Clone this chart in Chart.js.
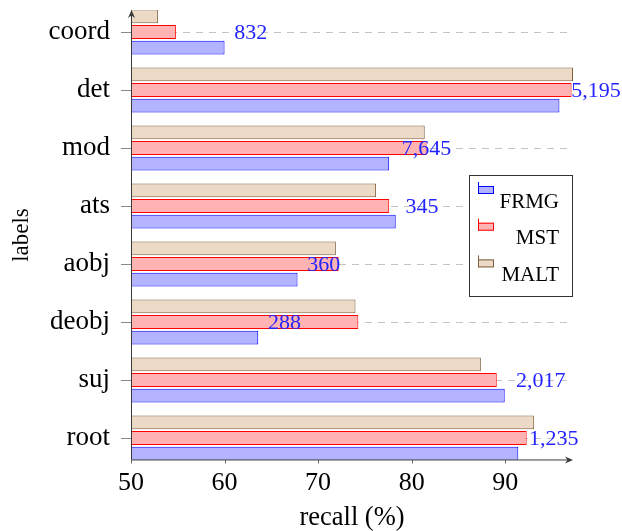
<!DOCTYPE html>
<html>
<head>
<meta charset="utf-8">
<script src="https://cdn.jsdelivr.net/npm/chart.js@4"></script>
<style>
html, body { margin: 0; padding: 0; background: #fff; }
</style>
</head>
<body>
<canvas id="recallChart" width="622" height="531"></canvas>
<script>
var labels = ['coord', 'det', 'mod', 'ats', 'aobj', 'deobj', 'suj', 'root'];
var frmg = [60.0, 95.8, 77.6, 78.3, 67.8, 63.6, 89.95, 91.4];
var mst = [54.8, 97.1, 81.6, 77.6, 72.2, 74.3, 89.1, 92.3];
var malt = [52.9, 97.25, 81.4, 76.2, 71.9, 74.0, 87.4, 93.1];
// number of occurrences per label, and where (in recall %) the number is written
var counts = ['832', '5,195', '7,645', '345', '360', '288', '2,017', '1,235'];
var countAt = [62.8, 99.7, 81.6, 81.1, 70.6, 66.4, 93.8, 95.2];
var xTicks = [50, 60, 70, 80, 90];

var FONT = "'Liberation Serif', 'Times New Roman', serif";
var AXIS = '#3a3a3a';

// visible part of the y axis (bars are cut at its ends)
function axisBounds(chart) {
    var y = chart.scales.y;
    var step = (y.bottom - y.top) / labels.length;
    return {
        top: y.getPixelForValue(0) - 0.38 * step,
        bottom: y.getPixelForValue(labels.length - 1) + 0.37 * step
    };
}

var clipBars = {
    id: 'clipBars',
    beforeDatasetsDraw: function(chart) {
        var b = axisBounds(chart), a = chart.chartArea, ctx = chart.ctx;
        ctx.save();
        ctx.beginPath();
        ctx.rect(a.left - 2, b.top, a.right - a.left + 4, b.bottom - b.top);
        ctx.clip();
    },
    afterDatasetsDraw: function(chart) {
        chart.ctx.restore();
    }
};

var axesAndNotes = {
    id: 'axesAndNotes',
    afterDraw: function(chart) {
        var ctx = chart.ctx, a = chart.chartArea, b = axisBounds(chart);
        var xs = chart.scales.x, ys = chart.scales.y;
        ctx.save();
        ctx.strokeStyle = AXIS;
        ctx.fillStyle = AXIS;
        ctx.lineWidth = 1;
        // axis lines
        ctx.beginPath();
        ctx.moveTo(a.left + 0.5, b.bottom);
        ctx.lineTo(a.left + 0.5, b.top + 2);
        ctx.moveTo(a.left, b.bottom + 0.5);
        ctx.lineTo(a.right - 2, b.bottom + 0.5);
        ctx.stroke();
        // x tick marks
        ctx.strokeStyle = '#666';
        ctx.beginPath();
        xTicks.forEach(function(v) {
            var px = Math.round(xs.getPixelForValue(v)) + 0.5;
            ctx.moveTo(px, b.bottom);
            ctx.lineTo(px, b.bottom + 4);
        });
        ctx.stroke();
        // arrow heads
        ctx.beginPath();
        var tx = a.right, ty = b.bottom + 0.5;
        ctx.moveTo(tx, ty);
        ctx.lineTo(tx - 8, ty - 3.5);
        ctx.lineTo(tx - 5.5, ty);
        ctx.lineTo(tx - 8, ty + 3.5);
        ctx.closePath();
        var ux = a.left + 0.5, uy = b.top;
        ctx.moveTo(ux, uy);
        ctx.lineTo(ux - 3.5, uy + 8);
        ctx.lineTo(ux, uy + 5.5);
        ctx.lineTo(ux + 3.5, uy + 8);
        ctx.closePath();
        ctx.fill();

        // occurrence counts
        ctx.fillStyle = '#2424ff';
        ctx.font = '22px ' + FONT;
        ctx.textAlign = 'center';
        ctx.textBaseline = 'middle';
        counts.forEach(function(c, i) {
            ctx.fillText(c, xs.getPixelForValue(countAt[i]), ys.getPixelForValue(i) + 1);
        });

        // legend box
        var lx = 469.5, ly = 175.5, lw = 103, lh = 121;
        ctx.fillStyle = '#fff';
        ctx.fillRect(lx, ly, lw, lh);
        ctx.strokeStyle = '#333';
        ctx.strokeRect(lx, ly, lw, lh);
        var sets = chart.data.datasets.slice().reverse();
        ctx.font = '21px ' + FONT;
        ctx.textAlign = 'right';
        ctx.textBaseline = 'middle';
        sets.forEach(function(ds, i) {
            var top = 182 + i * 36.7;
            ctx.fillStyle = ds.backgroundColor;
            ctx.fillRect(478, top + 4, 16, 8);
            ctx.strokeStyle = ds.borderColor;
            ctx.strokeRect(478.5, top + 4.5, 15, 7);
            ctx.beginPath();
            ctx.moveTo(478.5, top);
            ctx.lineTo(478.5, top + 12);
            ctx.stroke();
            ctx.fillStyle = '#000';
            ctx.fillText(ds.label, 559, top + 20);
        });
        ctx.restore();
    }
};

var ctx = document.getElementById('recallChart').getContext('2d');
var recallChart = new Chart(ctx, {
    type: 'bar',
    data: {
        labels: labels,
        datasets: [{
            label: 'MALT',
            data: malt,
            backgroundColor: '#ecd9c6',
            borderColor: '#7f5f3f'
        }, {
            label: 'MST',
            data: mst,
            backgroundColor: '#ffb3b3',
            borderColor: '#ff0000'
        }, {
            label: 'FRMG',
            data: frmg,
            backgroundColor: '#b3b3ff',
            borderColor: '#0000ff'
        }]
    },
    options: {
        indexAxis: 'y',
        responsive: false,
        animation: false,
        events: [],
        datasets: {
            bar: {
                base: 50,
                borderWidth: 1,
                borderSkipped: false,
                barPercentage: 0.88,
                categoryPercentage: 0.81
            }
        },
        layout: { padding: { left: 0, right: 49, top: 3, bottom: 0 } },
        plugins: { legend: { display: false }, tooltip: { enabled: false } },
        scales: {
            x: {
                type: 'linear',
                min: 50,
                max: 97.25,
                afterBuildTicks: function(s) {
                    s.ticks = xTicks.map(function(v) { return { value: v }; });
                },
                afterFit: function(s) {
                    s.height = 64;
                    s.paddingLeft = 0;
                    s.paddingRight = 0;
                },
                grid: { display: false, drawTicks: false },
                border: { display: false },
                ticks: { padding: 1, color: '#000', font: { family: FONT, size: 26 } },
                title: {
                    display: true, text: 'recall (%)', color: '#000',
                    font: { family: FONT, size: 26.5, lineHeight: 1 }, padding: 0
                }
            },
            y: {
                afterFit: function(s) {
                    s.width = 131;
                    s.paddingTop = 0;
                    s.paddingBottom = 0;
                },
                grid: {
                    offset: false, color: '#c4c4c4', lineWidth: 1,
                    tickColor: '#8a8a8a', tickLength: 10, tickBorderDash: []
                },
                border: { display: false, dash: [7, 6] },
                ticks: { padding: 11, color: '#000', font: { family: FONT, size: 27 } },
                title: {
                    display: true, text: 'labels', color: '#000',
                    font: { family: FONT, size: 23, lineHeight: 1 }, padding: { top: 10, bottom: 0 }
                }
            }
        }
    },
    plugins: [clipBars, axesAndNotes]
});
</script>
</body>
</html>
